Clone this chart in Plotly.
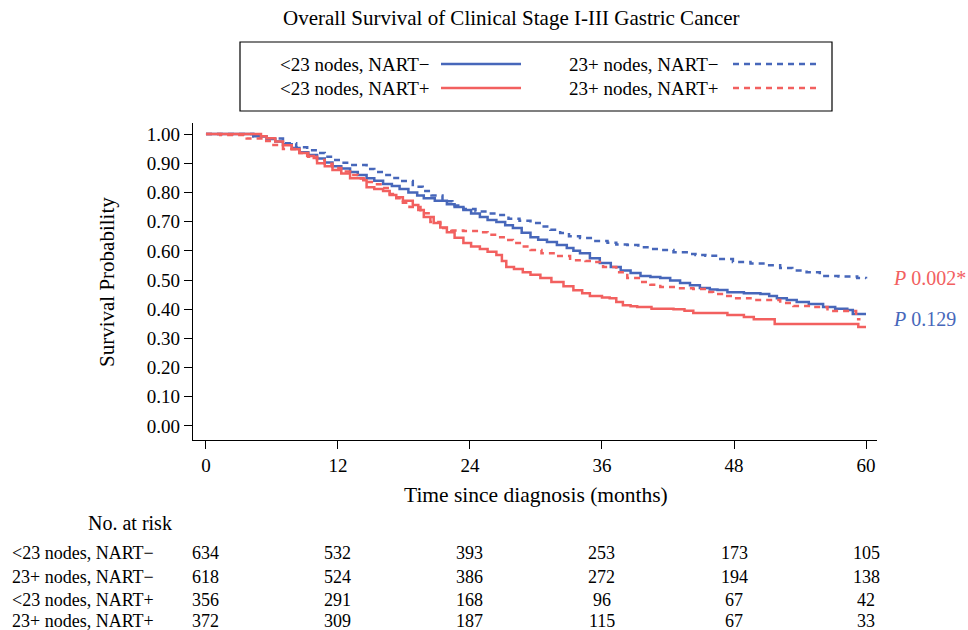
import plotly.graph_objects as go

# ---------------- data ----------------
t_lt23_neg = [0, 4.3, 5.5, 6.3, 7.0, 7.8, 8.5, 9.3, 10.1, 10.8, 11.5, 12.3, 13.1, 13.8, 14.6, 15.3, 16.1, 16.9,
              17.6, 18.4, 19.2, 19.8, 20.8, 21.9, 22.6, 23.4, 24.1, 24.9, 25.6, 26.4, 27.2, 27.9, 28.7, 29.5,
              30.2, 31.0, 31.9, 32.8, 33.4, 34.0, 34.9, 35.8, 36.8, 37.7, 38.6, 39.5, 40.4, 41.3, 42.2, 43.1,
              44.0, 44.9, 45.8, 46.5, 47.4, 48.9, 50.4, 51.2, 51.9, 52.8, 53.7, 54.8, 56.1, 57.2, 58.3, 58.8, 60.0]
s_lt23_neg = [1.00, 0.993, 0.983, 0.975, 0.965, 0.952, 0.938, 0.928, 0.916, 0.903, 0.890, 0.882, 0.870, 0.860,
              0.849, 0.840, 0.829, 0.822, 0.812, 0.800, 0.790, 0.780, 0.772, 0.760, 0.750, 0.740, 0.728, 0.716,
              0.706, 0.699, 0.688, 0.678, 0.662, 0.647, 0.638, 0.630, 0.620, 0.610, 0.600, 0.592, 0.575, 0.558,
              0.545, 0.533, 0.524, 0.514, 0.510, 0.507, 0.498, 0.490, 0.482, 0.473, 0.468, 0.466, 0.458, 0.455,
              0.452, 0.445, 0.438, 0.432, 0.425, 0.418, 0.408, 0.402, 0.397, 0.384, 0.384]

t_23p_neg = [0, 4.3, 5.5, 7.0, 8.2, 9.2, 10.1, 10.8, 11.5, 12.3, 13.1, 14.6, 15.3, 16.1, 16.9, 17.6, 18.8, 19.7,
             20.5, 21.5, 22.4, 23.4, 24.5, 25.4, 26.4, 27.5, 28.5, 29.5, 30.5, 31.3, 32.2, 33.0, 34.0, 35.2, 36.5,
             37.3, 38.3, 39.3, 40.3, 41.3, 42.5, 43.7, 44.5, 45.4, 46.5, 47.9, 49.5, 51.0, 52.2, 53.3, 54.6, 55.8,
             57.5, 59.2, 60.0]
s_23p_neg = [1.00, 0.993, 0.985, 0.969, 0.955, 0.945, 0.935, 0.922, 0.911, 0.902, 0.894, 0.880, 0.870, 0.860,
             0.850, 0.839, 0.820, 0.805, 0.790, 0.770, 0.755, 0.743, 0.735, 0.728, 0.723, 0.710, 0.703, 0.695,
             0.683, 0.672, 0.661, 0.650, 0.644, 0.634, 0.628, 0.622, 0.620, 0.612, 0.606, 0.603, 0.595, 0.589,
             0.586, 0.583, 0.572, 0.562, 0.557, 0.551, 0.541, 0.533, 0.527, 0.514, 0.512, 0.507, 0.505]

t_lt23_pos = [0, 4.3, 5.0, 5.5, 6.3, 7.0, 7.8, 8.5, 9.2, 9.8, 10.1, 10.8, 11.5, 12.3, 13.1, 14.3, 14.6, 15.3,
              16.1, 16.7, 17.3, 17.9, 18.8, 19.3, 19.8, 20.7, 21.3, 21.9, 22.6, 23.4, 24.1, 24.9, 25.6, 26.4,
              26.9, 27.3, 28.0, 28.8, 29.5, 30.4, 31.4, 32.5, 33.4, 34.2, 34.9, 36.0, 36.7, 37.3, 37.9, 38.6,
              39.2, 40.5, 42.5, 43.5, 44.3, 47.4, 48.9, 49.8, 51.7, 59.3, 60.0]
s_lt23_pos = [1.00, 1.00, 0.993, 0.986, 0.975, 0.962, 0.948, 0.935, 0.925, 0.918, 0.900, 0.890, 0.877, 0.865,
              0.849, 0.842, 0.818, 0.812, 0.805, 0.791, 0.784, 0.772, 0.757, 0.740, 0.716, 0.695, 0.680, 0.664,
              0.645, 0.627, 0.615, 0.606, 0.597, 0.586, 0.565, 0.545, 0.538, 0.527, 0.518, 0.507, 0.493, 0.479,
              0.465, 0.455, 0.445, 0.440, 0.438, 0.425, 0.414, 0.410, 0.408, 0.402, 0.400, 0.395, 0.387, 0.380,
              0.373, 0.366, 0.349, 0.339, 0.339]

t_23p_pos = [0, 1.3, 3.7, 5.2, 6.0, 7.0, 8.5, 9.3, 10.1, 10.8, 11.5, 12.3, 13.1, 13.8, 14.6, 15.3, 16.1, 16.7,
             17.3, 17.9, 18.5, 19.5, 20.4, 21.3, 22.3, 23.4, 24.9, 25.6, 26.4, 27.2, 27.9, 28.7, 29.5, 30.5,
             31.6, 33.1, 34.5, 35.2, 36.1, 37.3, 38.3, 39.5, 40.4, 41.3, 42.8, 44.3, 45.5, 46.1, 46.9, 47.9,
             49.5, 51.3, 52.2, 53.4, 55.2, 56.5, 58.8, 59.1, 59.5]
s_23p_pos = [1.00, 0.997, 0.985, 0.976, 0.963, 0.949, 0.935, 0.922, 0.911, 0.898, 0.884, 0.872, 0.860, 0.848,
             0.836, 0.828, 0.815, 0.795, 0.780, 0.765, 0.750, 0.729, 0.699, 0.678, 0.670, 0.668, 0.664, 0.655,
             0.647, 0.637, 0.627, 0.615, 0.603, 0.592, 0.582, 0.568, 0.565, 0.562, 0.545, 0.527, 0.507, 0.493,
             0.484, 0.476, 0.472, 0.469, 0.459, 0.452, 0.445, 0.438, 0.432, 0.432, 0.421, 0.411, 0.408, 0.394,
             0.394, 0.366, 0.366]

series_names = ["<23 nodes, NART\u2212", "23+ nodes, NART\u2212", "<23 nodes, NART+", "23+ nodes, NART+"]
risk_times = [0, 12, 24, 36, 48, 60]
risk_lt23_neg = [634, 532, 393, 253, 173, 105]
risk_23p_neg = [618, 524, 386, 272, 194, 138]
risk_lt23_pos = [356, 291, 168, 96, 67, 42]
risk_23p_pos = [372, 309, 187, 115, 67, 33]
x_ticks = [0, 12, 24, 36, 48, 60]
y_ticks = [0.0, 0.1, 0.2, 0.3, 0.4, 0.5, 0.6, 0.7, 0.8, 0.9, 1.0]
p_values = ["0.002*", "0.129"]

# ---------------- style ----------------
BLUE = "#4767BA"
RED = "#F2605F"
FONT = "Liberation Serif"
DASH = "6px,5px"

fig = go.Figure()
specs = [
    (t_lt23_neg, s_lt23_neg, BLUE, "solid"),
    (t_23p_neg, s_23p_neg, BLUE, DASH),
    (t_lt23_pos, s_lt23_pos, RED, "solid"),
    (t_23p_pos, s_23p_pos, RED, DASH),
]
for (tt, ss, col, dash), name in zip(specs, series_names):
    fig.add_trace(go.Scatter(x=tt, y=ss, mode="lines", name=name,
                             line=dict(color=col, width=2.5, dash=dash, shape="hv"),
                             showlegend=False))

# plot-area pixel geometry helpers
L, R, T, B = 193, 91, 123, 190
W, H = 968, 630
PW, PH = W - L - R, H - T - B


def px_x(x):
    return (x - L) / PW


def px_y(y):
    return (H - B - y) / PH


ann = []
# title
ann.append(dict(text="Overall Survival of Clinical Stage I-III Gastric Cancer", x=px_x(511), y=px_y(18),
                xref="paper", yref="paper", showarrow=False, font=dict(size=21, family=FONT, color="black"),
                xanchor="center", yanchor="middle"))
# axis titles
ann.append(dict(text="Survival Probability", x=px_x(107), y=px_y(282), xref="paper", yref="paper",
                showarrow=False, textangle=-90, font=dict(size=21, family=FONT, color="black"),
                xanchor="center", yanchor="middle"))
ann.append(dict(text="Time since diagnosis (months)", x=px_x(536), y=px_y(495), xref="paper", yref="paper",
                showarrow=False, font=dict(size=21.5, family=FONT, color="black"),
                xanchor="center", yanchor="middle"))
# p-values
ann.append(dict(text="<i>P</i> " + p_values[0], x=px_x(891), y=px_y(278), xref="paper", yref="paper",
                showarrow=False, font=dict(size=20, family=FONT, color=RED), xanchor="left", yanchor="middle"))
ann.append(dict(text="<i>P</i> " + p_values[1], x=px_x(891), y=px_y(319), xref="paper", yref="paper",
                showarrow=False, font=dict(size=20, family=FONT, color=BLUE), xanchor="left", yanchor="middle"))

# legend (manual, text left of line)
shapes = []
shapes.append(dict(type="rect", xref="paper", yref="paper", x0=px_x(240), x1=px_x(832), y0=px_y(111),
                   y1=px_y(42), line=dict(color="black", width=1.2), fillcolor="rgba(0,0,0,0)"))
leg_pos = [(278, 64, 441, 521), (567, 64, 733, 820), (278, 88, 441, 521), (567, 88, 733, 820)]
for (tx, ty, lx0, lx1), name, (_, _, col, dash) in zip(leg_pos, series_names, specs):
    ann.append(dict(text=name, x=px_x(tx), y=px_y(ty), xref="paper", yref="paper", showarrow=False,
                    font=dict(size=19, family=FONT, color="black"), xanchor="left", yanchor="middle"))
    shapes.append(dict(type="line", xref="paper", yref="paper", x0=px_x(lx0), x1=px_x(lx1),
                       y0=px_y(ty), y1=px_y(ty), line=dict(color=col, width=2.5, dash=dash)))

# risk table
ann.append(dict(text="No. at risk", x=px_x(130), y=px_y(523), xref="paper", yref="paper", showarrow=False,
                font=dict(size=20, family=FONT, color="black"), xanchor="center", yanchor="middle"))
risk_rows = [risk_lt23_neg, risk_23p_neg, risk_lt23_pos, risk_23p_pos]
row_y = [553, 577, 600, 621]
for name, vals, ry in zip(series_names, risk_rows, row_y):
    ann.append(dict(text=name, x=px_x(10), y=px_y(ry), xref="paper", yref="paper", showarrow=False,
                    font=dict(size=18, family=FONT, color="black"), xanchor="left", yanchor="middle"))
    for tv, v in zip(risk_times, vals):
        ann.append(dict(text=str(v), x=tv, y=px_y(ry), xref="x", yref="paper", showarrow=False,
                        font=dict(size=18, family=FONT, color="black"), xanchor="center", yanchor="middle"))

fig.update_layout(
    width=W, height=H,
    margin=dict(l=L, r=R, t=T, b=B),
    paper_bgcolor="white", plot_bgcolor="white",
    font=dict(family=FONT, color="black"),
    annotations=ann, shapes=shapes, showlegend=False,
)
fig.update_xaxes(range=[-1.18, 61.0], tickvals=x_ticks, ticks="outside", ticklen=8, tickwidth=1.2,
                 tickcolor="black", showline=True, linecolor="black", linewidth=1.2, showgrid=False,
                 zeroline=False, tickfont=dict(size=19, family=FONT, color="black"))
fig.update_yaxes(range=[-0.048, 1.038], tickvals=y_ticks, tickformat=".2f", ticks="outside", ticklen=8,
                 tickwidth=1.2, tickcolor="black", showline=True, linecolor="black", linewidth=1.2,
                 showgrid=False, zeroline=False, tickfont=dict(size=19, family=FONT, color="black"))

fig.write_html(
    "out.html",
    config={"displayModeBar": False},
    post_script="document.body.style.margin='0';document.body.style.padding='0';"
                "document.body.style.overflow='hidden';",
)
